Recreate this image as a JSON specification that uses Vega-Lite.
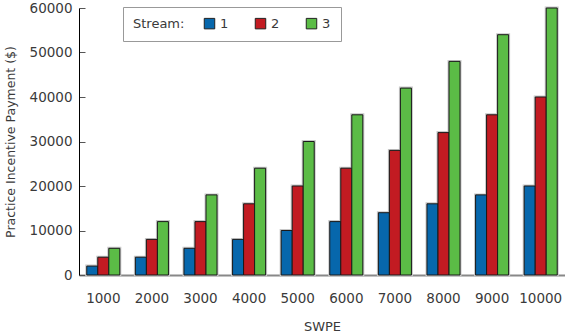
{
  "$schema": "https://vega.github.io/schema/vega-lite/v6.json",
  "autosize": {"type": "none"},
  "width": 486,
  "height": 267,
  "padding": {"left": 79, "top": 8, "right": 0, "bottom": 60},
  "background": "white",
  "config": {
    "view": {"stroke": null},
    "font": "DejaVu Sans",
    "text": {"color": "#333"}
  },
  "data": {
    "values": [
      {"SWPE": "1000", "Stream": "1", "Payment": 2000},
      {"SWPE": "1000", "Stream": "2", "Payment": 4000},
      {"SWPE": "1000", "Stream": "3", "Payment": 6000},
      {"SWPE": "2000", "Stream": "1", "Payment": 4000},
      {"SWPE": "2000", "Stream": "2", "Payment": 8000},
      {"SWPE": "2000", "Stream": "3", "Payment": 12000},
      {"SWPE": "3000", "Stream": "1", "Payment": 6000},
      {"SWPE": "3000", "Stream": "2", "Payment": 12000},
      {"SWPE": "3000", "Stream": "3", "Payment": 18000},
      {"SWPE": "4000", "Stream": "1", "Payment": 8000},
      {"SWPE": "4000", "Stream": "2", "Payment": 16000},
      {"SWPE": "4000", "Stream": "3", "Payment": 24000},
      {"SWPE": "5000", "Stream": "1", "Payment": 10000},
      {"SWPE": "5000", "Stream": "2", "Payment": 20000},
      {"SWPE": "5000", "Stream": "3", "Payment": 30000},
      {"SWPE": "6000", "Stream": "1", "Payment": 12000},
      {"SWPE": "6000", "Stream": "2", "Payment": 24000},
      {"SWPE": "6000", "Stream": "3", "Payment": 36000},
      {"SWPE": "7000", "Stream": "1", "Payment": 14000},
      {"SWPE": "7000", "Stream": "2", "Payment": 28000},
      {"SWPE": "7000", "Stream": "3", "Payment": 42000},
      {"SWPE": "8000", "Stream": "1", "Payment": 16000},
      {"SWPE": "8000", "Stream": "2", "Payment": 32000},
      {"SWPE": "8000", "Stream": "3", "Payment": 48000},
      {"SWPE": "9000", "Stream": "1", "Payment": 18000},
      {"SWPE": "9000", "Stream": "2", "Payment": 36000},
      {"SWPE": "9000", "Stream": "3", "Payment": 54000},
      {"SWPE": "10000", "Stream": "1", "Payment": 20000},
      {"SWPE": "10000", "Stream": "2", "Payment": 40000},
      {"SWPE": "10000", "Stream": "3", "Payment": 60000}
    ]
  },
  "encoding": {
    "x": {
      "field": "SWPE", "type": "ordinal", "sort": null,
      "scale": {"paddingInner": 0.32, "paddingOuter": 0.16},
      "axis": {
        "title": "SWPE", "labelAngle": 0, "ticks": false,
        "domainColor": "#888", "domainWidth": 2,
        "labelFontSize": 13.5, "labelColor": "#3a3a3a", "labelPadding": 16,
        "titleFontSize": 13, "titleFontWeight": "normal", "titleColor": "#3a3a3a", "titlePadding": 16
      }
    },
    "xOffset": {"field": "Stream", "type": "nominal", "scale": {"paddingInner": 0}},
    "y": {
      "field": "Payment", "type": "quantitative",
      "scale": {"domain": [0, 60000]},
      "axis": {
        "title": "Practice Incentive Payment ($)", "tickCount": 6, "grid": false,
        "format": "d", "tickSize": -6, "labelPadding": 13,
        "domainColor": "#000", "tickColor": "#555",
        "labelFontSize": 13.5, "labelColor": "#3a3a3a",
        "titleFontSize": 12.5, "titleFontWeight": "normal", "titleColor": "#3a3a3a", "titlePadding": 12
      }
    },
    "color": {
      "field": "Stream", "type": "nominal",
      "scale": {"domain": ["1", "2", "3"], "range": ["#0767ac", "#c21b22", "#5bbc46"]},
      "legend": {
        "title": "Stream:", "orient": "none", "direction": "horizontal",
        "legendX": 44, "legendY": -1,
        "titleOrient": "left", "titleFontSize": 13, "titleFontWeight": "normal", "titleColor": "#3a3a3a",
        "titlePadding": 18,
        "labelFontSize": 13, "labelColor": "#3a3a3a",
        "symbolType": "square", "symbolSize": 110, "symbolStrokeColor": "#222", "symbolStrokeWidth": 1,
        "columnPadding": 24, "labelOffset": 4,
        "strokeColor": "#999", "fillColor": "white", "padding": 10
      }
    }
  },
  "layer": [
    {"mark": {"type": "bar", "stroke": "#c8c8c8", "strokeWidth": 3}},
    {"mark": {"type": "bar", "stroke": "#1a1a1a", "strokeWidth": 1}}
  ]
}
